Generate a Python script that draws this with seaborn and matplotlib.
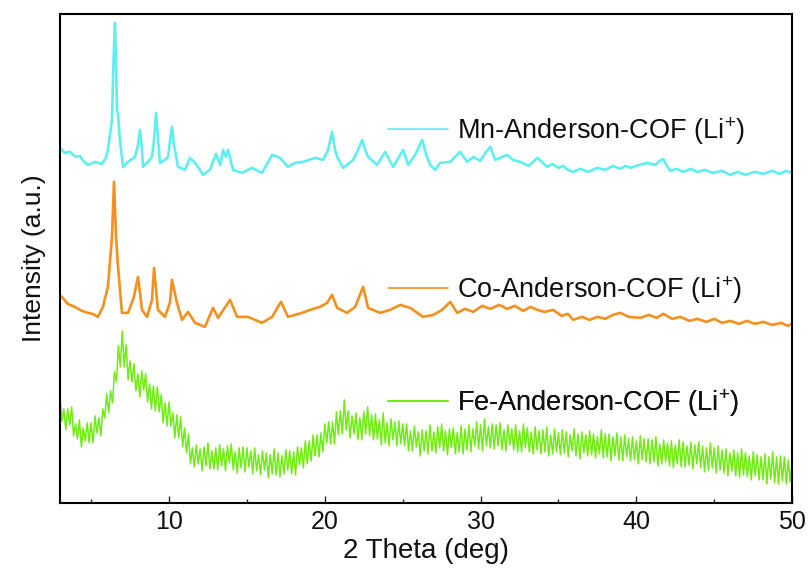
import numpy as np
import matplotlib
matplotlib.use("Agg")
import matplotlib.pyplot as plt
import seaborn as sns
from matplotlib.lines import Line2D
from matplotlib.ticker import MultipleLocator

# ---------------- data (intensity in arbitrary units, offsets included) ----------------
mn_x = [3.0, 3.3, 3.64, 4.0, 4.28, 4.55, 4.80, 5.25, 5.70, 5.95, 6.08, 6.34, 6.44, 6.53, 6.60, 6.66, 6.73, 6.85,
        7.05, 7.37, 7.82, 8.01, 8.14, 8.27, 8.33, 8.65, 8.91, 9.04, 9.17, 9.30, 9.42, 9.74, 9.94,
        10.07, 10.19, 10.32, 10.58, 11.03, 11.35, 11.67, 11.99, 12.18, 12.63, 13.02, 13.28, 13.47,
        13.66, 13.79, 14.11, 14.69, 15.33, 15.97, 16.62, 17.13, 17.64, 18.09, 18.61, 19.38, 19.89,
        20.21, 20.47, 20.66, 20.79, 21.18, 21.82, 22.14, 22.40, 22.59, 22.78, 23.36, 23.87, 24.39,
        25.03, 25.35, 25.80, 26.25, 26.51, 26.76, 27.09, 27.41, 28.05, 28.69, 29.14, 29.55, 29.97, 30.36,
        30.62, 30.94, 31.71, 32.09, 32.54, 33.1, 33.64, 34.0, 34.28, 34.6, 35.0, 35.31, 35.6, 35.95,
        36.4, 36.9, 37.49, 38.0, 38.5, 38.97, 39.3, 39.61, 40.2, 40.70, 41.2, 41.5, 41.73, 41.92, 42.18,
        42.6, 43.0, 43.5, 43.91, 44.4, 44.9, 45.5, 46.03, 46.5, 47.0, 47.6, 48.15, 48.7, 49.2, 49.6, 50.0]
mn_y = [355, 350, 351, 346, 347, 341, 338, 341, 339, 345, 353, 383, 443, 480, 443, 393, 388, 363,
        336, 341, 346, 358, 373, 353, 336, 341, 346, 363, 390, 363, 340, 343, 346,
        363, 376, 358, 336, 333, 345, 340, 333, 328, 333, 349, 338, 353,
        346, 353, 333, 330, 335, 330, 348, 345, 336, 340, 341, 345, 343,
        353, 371, 353, 346, 335, 343, 353, 363, 353, 346, 338, 351, 336,
        353, 338, 348, 363, 348, 338, 333, 340, 341, 351, 341, 346, 342, 351,
        356, 343, 348, 343, 341, 337, 345, 340, 336, 339, 335, 337, 333, 331,
        334, 331, 335, 333, 337, 334, 337, 335, 338, 340, 338, 342, 344, 338, 332,
        334, 331, 334, 331, 333, 330, 332, 328, 331, 328, 331, 329, 332, 329, 332, 330]

co_x = [3.0, 3.13, 3.5, 3.96, 4.4, 4.80, 5.1, 5.44, 5.76, 6.08, 6.34, 6.47, 6.60, 6.73, 6.98, 7.37, 7.75, 8.01,
        8.27, 8.59, 8.91, 9.04, 9.29, 9.74, 10.06, 10.19, 10.51, 10.84, 11.22, 11.67, 12.31, 12.83,
        13.15, 13.92, 14.37, 15.07, 15.97, 16.62, 17.19, 17.64, 18.54, 19.06, 19.70, 20.15, 20.47,
        20.79, 21.43, 21.95, 22.46, 22.78, 23.55, 24.20, 24.84, 25.48, 26.31, 26.96, 27.53, 28.05,
        28.50, 29.0, 29.53, 30.1, 30.62, 31.2, 31.71, 32.2, 32.74, 33.2, 33.64, 34.1, 34.66, 35.2,
        35.6, 35.95, 36.5, 37.0, 37.49, 38.0, 38.5, 38.97, 39.5, 40.25, 40.8, 41.3, 41.73, 42.3,
        42.82, 43.4, 43.91, 44.5, 45.0, 45.5, 46.03, 46.6, 47.1, 47.6, 48.15, 48.7, 49.3, 49.7, 50.0]
co_y = [207, 206, 199, 196, 192, 190, 189, 186, 196, 216, 266, 321, 266, 236, 190, 190, 206, 226,
        193, 186, 203, 235, 193, 186, 200, 223, 200, 183, 191, 180, 176, 195,
        185, 203, 186, 186, 180, 186, 201, 186, 190, 193, 196, 200, 208,
        195, 190, 196, 216, 195, 190, 193, 198, 195, 186, 188, 193, 201,
        190, 194, 191, 197, 194, 198, 194, 197, 192, 196, 193, 191, 193, 187,
        189, 183, 186, 183, 186, 184, 188, 190, 186, 185, 188, 185, 189, 184,
        186, 182, 184, 181, 184, 180, 182, 179, 182, 179, 181, 178, 180, 177, 179]

# Fe pattern read at 0.125 deg steps from 3 to 50 deg (377 readings)
fe_x = [3.0 + 0.125 * i for i in range(377)]
fe_y = [107, 82, 94, 73, 94, 78, 96, 67, 79, 64, 83, 56, 75, 62, 80, 60,
        80, 60, 87, 70, 85, 67, 94, 85, 109, 90, 112, 100, 131, 121, 157, 136,
        172, 136, 158, 123, 142, 121, 139, 112, 129, 106, 132, 113, 129, 101, 119, 94,
        117, 92, 116, 91, 108, 80, 100, 77, 101, 77, 90, 65, 88, 65, 86, 56,
        75, 50, 69, 39, 55, 36, 58, 39, 54, 32, 56, 37, 60, 34, 52, 34,
        55, 33, 58, 37, 54, 32, 57, 40, 59, 33, 51, 30, 55, 35, 56, 31,
        55, 36, 52, 29, 55, 32, 48, 28, 52, 33, 50, 25, 48, 29, 54, 28,
        50, 26, 47, 29, 53, 33, 52, 29, 51, 28, 56, 38, 55, 35, 62, 39,
        62, 42, 68, 47, 68, 46, 70, 51, 79, 60, 81, 59, 81, 59, 91, 68,
        92, 69, 103, 73, 92, 65, 87, 69, 90, 63, 85, 63, 91, 69, 96, 67,
        88, 63, 89, 64, 83, 58, 90, 60, 80, 57, 84, 63, 81, 57, 82, 59,
        79, 57, 79, 52, 72, 52, 77, 56, 71, 47, 73, 52, 72, 49, 78, 52,
        71, 50, 76, 55, 79, 52, 72, 48, 74, 55, 75, 49, 70, 51, 77, 49,
        74, 53, 78, 51, 74, 57, 81, 54, 78, 52, 84, 57, 76, 55, 79, 54,
        78, 57, 80, 53, 73, 52, 78, 58, 74, 53, 78, 51, 72, 51, 79, 55,
        75, 51, 71, 49, 76, 53, 72, 49, 73, 51, 76, 47, 68, 49, 74, 51,
        70, 48, 73, 50, 71, 46, 68, 52, 74, 47, 69, 44, 71, 50, 68, 47,
        72, 48, 69, 45, 66, 49, 73, 45, 69, 46, 69, 42, 66, 47, 70, 43,
        66, 42, 68, 46, 64, 42, 66, 43, 62, 39, 67, 43, 64, 41, 64, 39,
        63, 41, 66, 37, 59, 39, 63, 41, 60, 37, 62, 35, 58, 39, 63, 36,
        61, 36, 57, 38, 61, 34, 58, 39, 61, 35, 57, 31, 55, 33, 60, 35,
        55, 30, 57, 33, 53, 30, 54, 27, 50, 32, 53, 27, 50, 26, 54, 28,
        50, 26, 47, 23, 51, 27, 48, 23, 46, 23, 49, 19, 46, 24, 51, 20,
        46, 19, 47, 22, 46, 19, 43, 21, 41]

labels = ["Mn-Anderson-COF (Li$^{+}$)", "Co-Anderson-COF (Li$^{+}$)", "Fe-Anderson-COF (Li$^{+}$)"]
colors = ["#5EEFF0", "#F5901E", "#6EEE10"]
xticks = [10, 20, 30, 40, 50]

# ---------------- style ----------------
sns.set_style("ticks")
plt.rcParams["font.family"] = ["Liberation Sans", "DejaVu Sans"]
plt.rcParams["mathtext.fontset"] = "custom"
plt.rcParams["mathtext.rm"] = "Liberation Sans"
plt.rcParams["mathtext.it"] = "Liberation Sans"

fig = plt.figure(figsize=(8.10, 5.78), dpi=100)
ax = fig.add_axes([0.074, 0.130, 0.904, 0.846])

series = [(mn_x, mn_y, 1.9), (co_x, co_y, 1.9), (fe_x, fe_y, 1.1)]
for (xs, ys, lw), c in zip(series, colors):
    sns.lineplot(x=xs, y=ys, ax=ax, color=c, linewidth=lw, sort=False, estimator=None)

ax.set_xlim(3, 50)
ax.set_ylim(0, 489)
ax.set_xticks(xticks)
ax.set_xticklabels([str(t) for t in xticks], fontsize=18, color="#111111")
ax.xaxis.set_minor_locator(MultipleLocator(5))
ax.tick_params(axis="x", which="major", direction="in", length=5, width=1, pad=5)
ax.tick_params(axis="x", which="minor", direction="in", length=3, width=1)
ax.set_yticks([])
ax.set_xlabel("2 Theta (deg)", fontsize=20, labelpad=3, color="#111111")
ax.set_ylabel("Intensity (a.u.)", fontsize=19, labelpad=10, color="#111111")
for s in ax.spines.values():
    s.set_visible(True)
    s.set_linewidth(1.5)
    s.set_color("black")

# per-series legends placed next to their curves
legend_pos = [(0.448, 0.761), (0.448, 0.436), (0.448, 0.204)]
for lab, c, (lx, ly) in zip(labels, colors, legend_pos):
    h = Line2D([], [], color=c, linewidth=1.2)
    lg = ax.legend([h], [lab], loc="center left", bbox_to_anchor=(lx, ly), frameon=False,
                   fontsize=19.5, handlelength=2.2, handletextpad=0.35, borderaxespad=0,
                   borderpad=0, labelcolor="#111111")
    ax.add_artist(lg)

fig.savefig("out.png", dpi=100)
